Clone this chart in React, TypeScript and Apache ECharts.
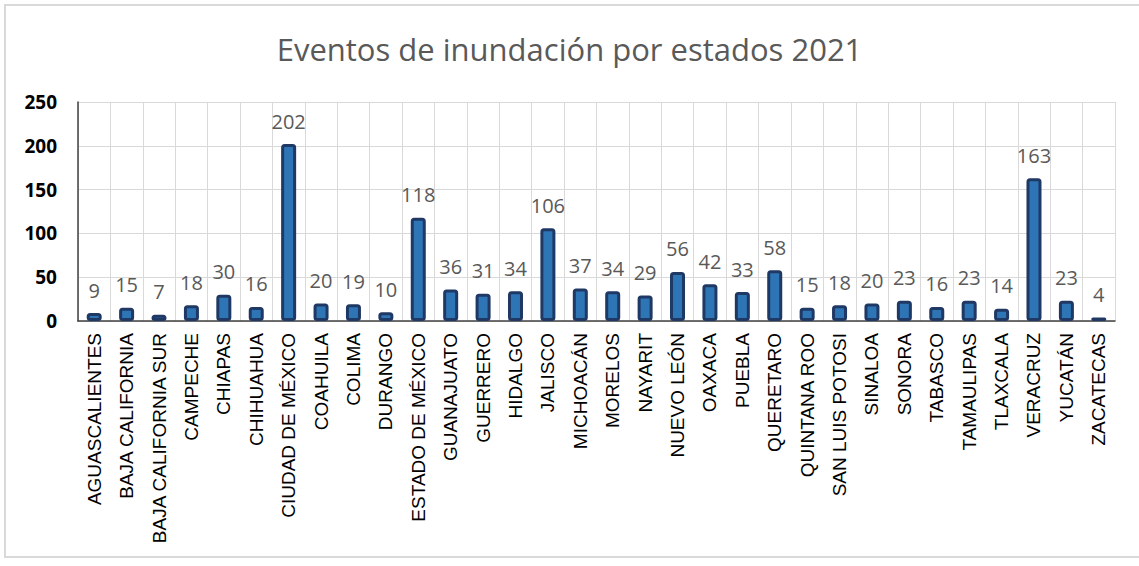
import React, { useEffect, useRef } from "react";
import * as echarts from "echarts";

const categories: string[] = [
  "AGUASCALIENTES", "BAJA CALIFORNIA", "BAJA CALIFORNIA SUR", "CAMPECHE", "CHIAPAS",
  "CHIHUAHUA", "CIUDAD DE MÉXICO", "COAHUILA", "COLIMA", "DURANGO",
  "ESTADO DE MÉXICO", "GUANAJUATO", "GUERRERO", "HIDALGO", "JALISCO",
  "MICHOACÁN", "MORELOS", "NAYARIT", "NUEVO LEÓN", "OAXACA",
  "PUEBLA", "QUERETARO", "QUINTANA ROO", "SAN LUIS POTOSI", "SINALOA",
  "SONORA", "TABASCO", "TAMAULIPAS", "TLAXCALA", "VERACRUZ",
  "YUCATÁN", "ZACATECAS",
];

const eventos: number[] = [
  9, 15, 7, 18, 30, 16, 202, 20, 19, 10,
  118, 36, 31, 34, 106, 37, 34, 29, 56, 42,
  33, 58, 15, 18, 20, 23, 16, 23, 14, 163,
  23, 4,
];

const yTicks = { min: 0, max: 250, interval: 50 };
const titleText = "Eventos de inundación por estados 2021";

export default function App() {
  const ref = useRef<HTMLDivElement>(null);
  useEffect(() => {
    if (!ref.current) return;
    const chart = echarts.init(ref.current, null, { renderer: "svg" });
    chart.setOption({
      animation: false,
      backgroundColor: "#ffffff",
      title: {
        text: titleText,
        left: "center",
        top: 28,
        textStyle: {
          fontFamily: "Open Sans",
          fontSize: 31,
          fontWeight: "normal",
          color: "#595959",
        },
      },
      graphic: [
        {
          type: "rect",
          shape: { x: 5, y: 5, width: 1150, height: 552 },
          style: { fill: "none", stroke: "#d9d9d9", lineWidth: 2 },
          silent: true,
          z: 0,
        },
      ],
      grid: { left: 78, right: 24, top: 102, bottom: 245 },
      xAxis: {
        type: "category",
        data: categories,
        axisLine: { show: true, lineStyle: { color: "#404040", width: 1.5 } },
        axisTick: { show: false },
        splitLine: { show: true, lineStyle: { color: "#d9d9d9", width: 1 } },
        axisLabel: {
          rotate: 90,
          interval: 0,
          margin: 12,
          color: "#000000",
          fontFamily: "Liberation Sans",
          fontSize: 19,
        },
      },
      yAxis: {
        type: "value",
        min: yTicks.min,
        max: yTicks.max,
        interval: yTicks.interval,
        axisLine: { show: true, lineStyle: { color: "#404040", width: 1.5 } },
        axisTick: { show: false },
        splitLine: { show: true, lineStyle: { color: "#d9d9d9", width: 1 } },
        axisLabel: {
          margin: 21,
          color: "#000000",
          fontFamily: "Noto Sans",
          fontWeight: "bold",
          fontSize: 19,
        },
      },
      series: [
        {
          type: "bar",
          data: eventos,
          barWidth: 15,
          itemStyle: {
            color: "#2E75B6",
            borderColor: "#1F3864",
            borderWidth: 3,
            borderRadius: 2,
          },
          label: {
            show: true,
            position: "top",
            distance: 13,
            color: "#595959",
            fontFamily: "Open Sans",
            fontSize: 20,
          },
        },
      ],
    });
    return () => chart.dispose();
  }, []);
  return (
    <div
      ref={ref}
      style={{ position: "fixed", left: 0, top: 0, width: 1139, height: 566 }}
    />
  );
}
